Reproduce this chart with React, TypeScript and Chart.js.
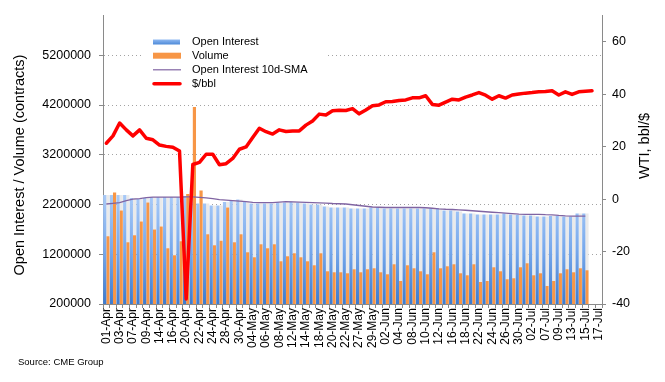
import React, { useEffect, useRef } from "react";
import { Chart, registerables } from "chart.js";

Chart.register(...registerables);

const FONT = "'Liberation Sans', Arial, Helvetica, sans-serif";

const dates = [
  "01-Apr","02-Apr","03-Apr","06-Apr","07-Apr","08-Apr","09-Apr","13-Apr","14-Apr","15-Apr",
  "16-Apr","17-Apr","20-Apr","21-Apr","22-Apr","23-Apr","24-Apr","27-Apr","28-Apr","29-Apr",
  "30-Apr","01-May","04-May","05-May","06-May","07-May","08-May","11-May","12-May","13-May",
  "14-May","15-May","18-May","19-May","20-May","21-May","22-May","26-May","27-May","28-May",
  "29-May","01-Jun","02-Jun","03-Jun","04-Jun","05-Jun","08-Jun","09-Jun","10-Jun","11-Jun",
  "12-Jun","15-Jun","16-Jun","17-Jun","18-Jun","19-Jun","22-Jun","23-Jun","24-Jun","25-Jun",
  "26-Jun","29-Jun","30-Jun","01-Jul","02-Jul","06-Jul","07-Jul","08-Jul","09-Jul","10-Jul",
  "13-Jul","14-Jul","15-Jul","16-Jul","17-Jul",
];

const openInterest = [
  2390000,2390000,2390000,2390000,2330000,2310000,2330000,2350000,2350000,2350000,
  2350000,2350000,2370000,2390000,2220000,2220000,2180000,2180000,2250000,2290000,
  2300000,2260000,2220000,2220000,2220000,2220000,2240000,2240000,2260000,2240000,
  2220000,2200000,2200000,2160000,2140000,2140000,2140000,2120000,2120000,2120000,
  2140000,2140000,2120000,2120000,2120000,2120000,2120000,2120000,2120000,2120000,
  2120000,2080000,2080000,2060000,2020000,2020000,2000000,2000000,2000000,2000000,
  2020000,2000000,1990000,1980000,1980000,1960000,1960000,1970000,1970000,1960000,
  1960000,2020000,2020000,
];

const volume = [
  1560000,2440000,2080000,1440000,1580000,1860000,2240000,1700000,1760000,1320000,
  1180000,1460000,2410000,4160000,2480000,1600000,1380000,1470000,2140000,1440000,
  1600000,1240000,1140000,1400000,1320000,1400000,1060000,1160000,1220000,1140000,
  1060000,980000,1220000,860000,840000,840000,820000,900000,840000,900000,
  920000,840000,800000,1000000,660000,980000,920000,860000,800000,1240000,
  920000,960000,1000000,820000,780000,1000000,640000,660000,940000,860000,
  700000,720000,940000,1020000,780000,820000,560000,660000,820000,900000,
  840000,920000,880000,
];

const oiSma10 = [
  2210000,2225000,2240000,2280000,2310000,2320000,2340000,2350000,2350000,2350000,
  2350000,2350000,2355000,2355000,2345000,2335000,2320000,2300000,2290000,2280000,
  2270000,2260000,2245000,2240000,2240000,2240000,2250000,2260000,2255000,2250000,
  2245000,2240000,2235000,2230000,2220000,2215000,2210000,2195000,2180000,2165000,
  2150000,2145000,2140000,2140000,2140000,2140000,2140000,2140000,2135000,2125000,
  2113000,2105000,2100000,2093000,2085000,2075000,2065000,2055000,2045000,2035000,
  2025000,2015000,2005000,2000000,2000000,2000000,1995000,1993000,1980000,1970000,
  1967000,1967000,1967000,
];

const wti = [
  21.3,24.1,29.0,26.4,24.1,26.4,23.2,22.6,20.6,20.1,
  19.8,18.3,-38.1,13.2,14.0,17.1,17.1,13.1,13.5,15.5,
  19.0,19.9,23.5,27.0,25.7,24.8,26.4,25.8,26.0,26.0,
  28.2,29.8,32.4,32.1,33.7,33.9,33.8,34.5,32.5,34.0,
  35.6,35.9,37.1,37.2,37.6,37.8,38.6,38.6,39.4,36.1,
  35.8,37.0,38.1,37.8,38.9,39.7,40.6,39.6,38.1,39.4,
  38.5,39.7,40.1,40.4,40.6,40.9,41.0,41.3,39.7,40.9,
  39.9,40.9,41.1,41.3,
];

const leftTicks = [200000, 1200000, 2200000, 3200000, 4200000, 5200000];
const rightTicks = [-40, -20, 0, 20, 40, 60];

const legendItems = ["Open Interest", "Volume", "Open Interest 10d-SMA", "$/bbl"];
const leftTitle = "Open Interest / Volume (contracts)";
const rightTitle = "WTI, bbl/$";
const sourceText = "Source: CME Group";

const gapAboveVolume = openInterest.map((v, i) => Math.max(v - volume[i], 0));

const overlayPlugin = {
  id: "overlay",
  afterDraw(chart: any) {
    const ctx = chart.ctx as CanvasRenderingContext2D;
    ctx.save();
    // legend box
    ctx.fillStyle = "#ffffff";
    ctx.fillRect(143, 31, 183, 62);
    const rows = [42, 55.7, 69.8, 83.7];
    // Open Interest swatch
    const g = ctx.createLinearGradient(0, rows[0] - 2.5, 0, rows[0] + 2.5);
    g.addColorStop(0, "#8fb9f2");
    g.addColorStop(1, "#4d8ad8");
    ctx.fillStyle = g;
    ctx.fillRect(153, rows[0] - 2.5, 27, 5);
    // Volume swatch
    ctx.fillStyle = "#f79646";
    ctx.fillRect(153, rows[1] - 3, 28, 6);
    // SMA swatch
    ctx.strokeStyle = "#8064a2";
    ctx.lineWidth = 1.2;
    ctx.beginPath();
    ctx.moveTo(153, rows[2]);
    ctx.lineTo(181, rows[2]);
    ctx.stroke();
    // price swatch
    ctx.strokeStyle = "#ff0000";
    ctx.lineWidth = 3.5;
    ctx.lineCap = "round";
    ctx.beginPath();
    ctx.moveTo(154, rows[3]);
    ctx.lineTo(180, rows[3]);
    ctx.stroke();

    ctx.fillStyle = "#000000";
    ctx.font = `11px ${FONT}`;
    ctx.textBaseline = "middle";
    ctx.textAlign = "left";
    legendItems.forEach((t, i) => ctx.fillText(t, 192, rows[i]));

    // axis titles
    ctx.font = `14.5px ${FONT}`;
    ctx.textAlign = "center";
    ctx.save();
    ctx.translate(20, 165);
    ctx.rotate(-Math.PI / 2);
    ctx.fillText(leftTitle, 0, 0);
    ctx.restore();
    ctx.save();
    ctx.translate(645, 146);
    ctx.rotate(-Math.PI / 2);
    ctx.fillText(rightTitle, 0, 0);
    ctx.restore();

    // source
    ctx.font = `9.5px ${FONT}`;
    ctx.textAlign = "left";
    ctx.fillText(sourceText, 18, 362.5);
    ctx.restore();
  },
};

export default function App() {
  const canvasRef = useRef<HTMLCanvasElement | null>(null);

  useEffect(() => {
    if (!canvasRef.current) return;
    Chart.defaults.font.family = FONT;
    Chart.defaults.color = "#000";

    const blueFill = (c: any) => {
      const chart = c.chart;
      const area = chart.chartArea;
      const ys = chart.scales && chart.scales.y;
      if (!area || !ys) return "#7aa9e8";
      const top = ys.getPixelForValue(2400000);
      const g = chart.ctx.createLinearGradient(0, top, 0, area.bottom);
      g.addColorStop(0, "#a9caf7");
      g.addColorStop(0.5, "#78a9ec");
      g.addColorStop(1, "#3d7bcf");
      return g;
    };

    const chart = new Chart(canvasRef.current, {
      type: "bar",
      data: {
        labels: dates,
        datasets: [
          {
            type: "bar",
            label: "Open Interest",
            data: openInterest,
            yAxisID: "y",
            stack: "oi",
            backgroundColor: blueFill,
            borderWidth: 0,
            categoryPercentage: 0.96,
            barPercentage: 1,
            order: 3,
          },
          {
            type: "bar",
            label: "Volume",
            data: volume,
            yAxisID: "y",
            stack: "vol",
            backgroundColor: "#f79646",
            borderWidth: 0,
            categoryPercentage: 0.96,
            barPercentage: 1,
            order: 3,
          },
          {
            type: "bar",
            label: "shade",
            data: gapAboveVolume,
            yAxisID: "y",
            stack: "vol",
            backgroundColor: "#eaeaea",
            borderWidth: 0,
            categoryPercentage: 0.96,
            barPercentage: 1,
            order: 3,
          },
          {
            type: "line",
            label: "Open Interest 10d-SMA",
            data: oiSma10,
            yAxisID: "y",
            borderColor: "#8064a2",
            borderWidth: 1.3,
            pointRadius: 0,
            tension: 0,
            fill: false,
            order: 1,
          },
          {
            type: "line",
            label: "$/bbl",
            data: wti,
            yAxisID: "y1",
            borderColor: "#ff0000",
            borderWidth: 3.5,
            borderJoinStyle: "round",
            borderCapStyle: "round",
            pointRadius: 0,
            tension: 0,
            fill: false,
            order: 0,
          },
        ] as any,
      },
      options: {
        responsive: false,
        animation: false,
        events: [],
        layout: { padding: { top: 13, left: 0, right: 0, bottom: 0 } },
        plugins: { legend: { display: false }, tooltip: { enabled: false } },
        scales: {
          x: {
            offset: true,
            afterFit: (s: any) => {
              s.height = 78;
            },
            ticks: {
              autoSkip: false,
              minRotation: 90,
              maxRotation: 90,
              padding: 0,
              color: "#000",
              font: { size: 12, family: FONT },
              callback: (_v: any, i: number) => (i % 2 === 0 ? dates[i] : ""),
            },
            grid: {
              offset: true,
              drawOnChartArea: false,
              tickLength: 4,
              color: "#8a8a8a",
            },
            border: { color: "#8a8a8a" },
          },
          y: {
            position: "left",
            stacked: true,
            min: 200000,
            max: 6000000,
            afterBuildTicks: (s: any) => {
              s.ticks = leftTicks.map((v) => ({ value: v }));
            },
            afterFit: (s: any) => {
              s.width = 103;
            },
            ticks: {
              padding: 8,
              color: "#000",
              font: { size: 12.5, family: FONT },
              callback: (v: any) => String(v),
            },
            grid: {
              color: "#a3a3a3",
              lineWidth: 1,
              tickLength: 4,
              tickColor: "#8a8a8a",
              tickBorderDash: [],
            },
            border: { color: "#8a8a8a", dash: [1, 3] },
          },
          y1: {
            position: "right",
            min: -40,
            max: 70,
            afterBuildTicks: (s: any) => {
              s.ticks = rightTicks.map((v) => ({ value: v }));
            },
            afterFit: (s: any) => {
              s.width = 63;
            },
            ticks: {
              padding: 6,
              color: "#000",
              font: { size: 12.5, family: FONT },
              callback: (v: any) => String(v),
            },
            grid: {
              drawOnChartArea: false,
              tickLength: 4,
              color: "#8a8a8a",
            },
            border: { color: "#8a8a8a" },
          },
        },
      } as any,
      plugins: [overlayPlugin],
    });

    return () => chart.destroy();
  }, []);

  return (
    <div
      style={{
        position: "absolute",
        left: 0,
        top: 0,
        width: 665,
        height: 382,
        background: "#ffffff",
      }}
    >
      <canvas ref={canvasRef} width={665} height={382} style={{ display: "block" }} />
    </div>
  );
}
